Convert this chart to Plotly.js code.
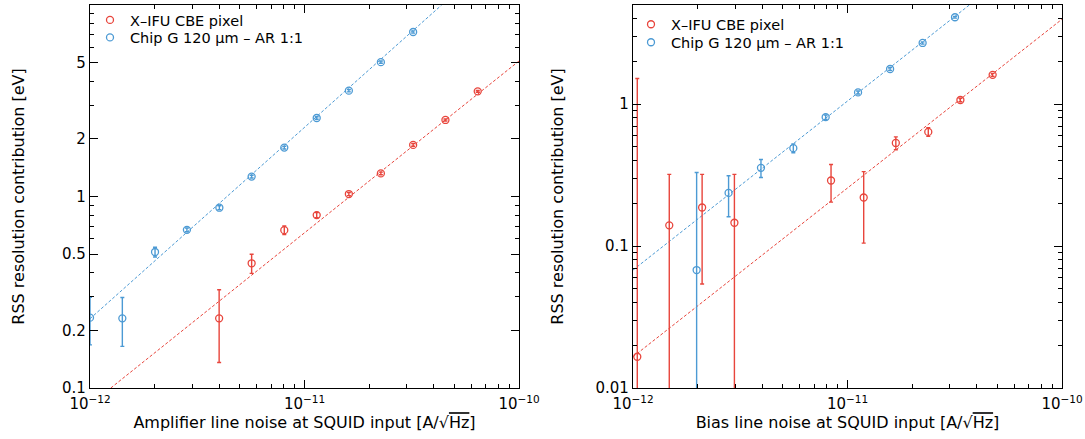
<!DOCTYPE html>
<html>
<head>
<meta charset="utf-8">
<script src="https://cdn.plot.ly/plotly-3.0.1.min.js"></script>
<style>html,body{margin:0;padding:0;background:#fff}#chart{width:1085px;height:439px}</style>
</head>
<body>
<div id="chart"></div>
<script>
// ---- Data: amplifier line noise (left panel) ----
const ampRedX = [4.0e-12, 5.67e-12, 8.05e-12, 1.14e-11, 1.61e-11, 2.27e-11, 3.21e-11, 4.54e-11, 6.42e-11];
const ampRedY = [0.231, 0.448, 0.667, 0.80, 1.03, 1.32, 1.86, 2.51, 3.54];
const ampRedErr = [0.095, 0.051, 0.035, 0.025, 0.02, 0.02, 0.03, 0.03, 0.04];
const ampBlueX = [1.0e-12, 1.415e-12, 2.01e-12, 2.83e-12, 4.01e-12, 5.67e-12, 8.05e-12, 1.14e-11, 1.61e-11, 2.27e-11, 3.21e-11];
const ampBlueY = [0.233, 0.231, 0.513, 0.67, 0.874, 1.27, 1.80, 2.57, 3.57, 5.03, 7.23];
const ampBlueErr = [0.065, 0.066, 0.03, 0.015, 0.02, 0.02, 0.03, 0.04, 0.05, 0.07, 0.1];
const ampRedFitX = [1.25e-12, 1e-10];
const ampRedFitY = [0.1, 5.1];
const ampBlueFitX = [1e-12, 4.36e-11];
const ampBlueFitY = [0.23, 10];

// ---- Data: bias line noise (right panel) ----
const biasRedX = [1.047e-12, 1.476e-12, 2.1e-12, 2.97e-12, 8.38e-12, 1.19e-11, 1.68e-11, 2.38e-11, 3.36e-11, 4.75e-11];
const biasRedY = [0.0166, 0.14, 0.187, 0.146, 0.29, 0.22, 0.533, 0.638, 1.07, 1.61];
const biasRedErr = [1.5, 0.18, 0.133, 0.174, 0.086, 0.115, 0.055, 0.045, 0.03, 0.04];
const biasBlueX = [1.98e-12, 2.79e-12, 3.95e-12, 5.59e-12, 7.91e-12, 1.12e-11, 1.58e-11, 2.24e-11, 3.17e-11];
const biasBlueY = [0.0678, 0.237, 0.356, 0.49, 0.81, 1.21, 1.77, 2.70, 4.10];
const biasBlueErr = [0.262, 0.076, 0.052, 0.035, 0.03, 0.03, 0.04, 0.05, 0.06];
const biasRedFitX = [1e-12, 1e-10];
const biasRedFitY = [0.0166, 3.97];
const biasBlueFitX = [1e-12, 3.7e-11];
const biasBlueFitY = [0.0678, 5.0];

// ---- Labels ----
const seriesNames = ["X\u2013IFU CBE pixel", "Chip G 120 \u00b5m \u2013 AR 1:1"];
const xTickVals = [1e-12, 1e-11, 1e-10];
const xTickText = ["10<sup>\u221212</sup>", "10<sup>\u221211</sup>", "10<sup>\u221210</sup>"];
const leftYTickVals = [0.1, 0.2, 0.5, 1, 2, 5];
const leftYTickText = ["0.1", "0.2", "0.5", "1", "2", "5"];
const rightYTickVals = [0.01, 0.1, 1];
const rightYTickText = ["0.01", "0.1", "1"];
const yTitle = "RSS resolution contribution [eV]";
const leftXTitle = "Amplifier line noise at SQUID input [A/\u221a<span style=\"text-decoration:overline\">Hz</span>]";
const rightXTitle = "Bias line noise at SQUID input [A/\u221a<span style=\"text-decoration:overline\">Hz</span>]";

const RED = "#e8453c";
const BLUE = "#4c9ad4";
const FONT = "DejaVu Sans, sans-serif";

function minorVals(lo, hi) {
  const out = [];
  for (let e = lo; e < hi; e++) for (let m = 2; m <= 9; m++) out.push(m * Math.pow(10, e));
  return out;
}

function pts(x, y, err, color, name, xa, ya, legend) {
  return {
    x: x, y: y, type: "scatter", mode: "markers", name: name,
    xaxis: xa, yaxis: ya, legend: legend, showlegend: true,
    marker: {symbol: "circle-open", size: 7, color: color, line: {width: 1.3, color: color}},
    error_y: {type: "data", array: err, visible: true, color: color, thickness: 1.4, width: 2}
  };
}
function fit(x, y, color, xa, ya) {
  return {
    x: x, y: y, type: "scatter", mode: "lines", showlegend: false, hoverinfo: "skip",
    xaxis: xa, yaxis: ya, line: {color: color, width: 1, dash: "3px,2px"}
  };
}

const traces = [
  fit(ampRedFitX, ampRedFitY, RED, "x", "y"),
  fit(ampBlueFitX, ampBlueFitY, BLUE, "x", "y"),
  pts(ampRedX, ampRedY, ampRedErr, RED, seriesNames[0], "x", "y", "legend"),
  pts(ampBlueX, ampBlueY, ampBlueErr, BLUE, seriesNames[1], "x", "y", "legend2"),
  fit(biasRedFitX, biasRedFitY, RED, "x2", "y2"),
  fit(biasBlueFitX, biasBlueFitY, BLUE, "x2", "y2"),
  pts(biasRedX, biasRedY, biasRedErr, RED, seriesNames[0], "x2", "y2", "legend3"),
  pts(biasBlueX, biasBlueY, biasBlueErr, BLUE, seriesNames[1], "x2", "y2", "legend4")
];

const W = 1085, H = 439;
const yDom = [(H - 388) / H, (H - 5) / H];
function xAxis(dom, title, anchor) {
  return {
    type: "log", domain: dom, anchor: anchor, range: [-12, -10],
    tickmode: "array", tickvals: xTickVals, ticktext: xTickText,
    ticks: "inside", ticklen: 8, tickwidth: 1, tickcolor: "#000",
    minor: {tickmode: "array", tickvals: minorVals(-12, -10), ticks: "inside", ticklen: 4, tickcolor: "#000", tickwidth: 1},
    showline: true, linecolor: "#000", linewidth: 1.2, mirror: "allticks",
    showgrid: false, zeroline: false, automargin: false, ticklabelstandoff: 2,
    tickfont: {family: FONT, size: 15, color: "#000"},
    title: {text: title, font: {family: FONT, size: 16, color: "#000"}, standoff: 4}
  };
}
function yAxis(range, tv, tt, minor, anchor, standoff) {
  return {
    type: "log", domain: yDom, anchor: anchor, range: range,
    tickmode: "array", tickvals: tv, ticktext: tt,
    ticks: "inside", ticklen: 8, tickwidth: 1, tickcolor: "#000",
    minor: {tickmode: "array", tickvals: minor, ticks: "inside", ticklen: 4, tickcolor: "#000", tickwidth: 1},
    showline: true, linecolor: "#000", linewidth: 1.2, mirror: "allticks",
    showgrid: false, zeroline: false, automargin: false,
    tickfont: {family: FONT, size: 15, color: "#000"},
    title: {text: yTitle, font: {family: FONT, size: 16, color: "#000"}, standoff: standoff}
  };
}

const leftMinor = [0.3, 0.4, 0.6, 0.7, 0.8, 0.9, 3, 4, 6, 7, 8, 9];
const rightMinor = minorVals(-2, 0).concat([2, 3, 4]);

function legendAt(px, py) {
  return {
    x: px / W, y: 1 - py / H, xanchor: "left", yanchor: "middle",
    bgcolor: "rgba(0,0,0,0)", borderwidth: 0,
    font: {family: FONT, size: 14.5, color: "#000"}, itemwidth: 30
  };
}

const layout = {
  width: W, height: H,
  margin: {l: 0, r: 0, t: 0, b: 0},
  paper_bgcolor: "#fff", plot_bgcolor: "#fff",
  font: {family: FONT, size: 15, color: "#000"},
  xaxis: xAxis([90 / W, 519 / W], leftXTitle, "y"),
  yaxis: yAxis([-1, 1], leftYTickVals, leftYTickText, leftMinor, "x", 33),
  xaxis2: xAxis([633 / W, 1062 / W], rightXTitle, "y2"),
  yaxis2: yAxis([-2, Math.log10(5)], rightYTickVals, rightYTickText, rightMinor, "x2", 27),
  legend: legendAt(90, 20),
  legend2: legendAt(90, 37.5),
  legend3: legendAt(631, 24.3),
  legend4: legendAt(631, 42.3)
};

Plotly.newPlot("chart", traces, layout, {displayModeBar: false, staticPlot: true});
</script>
</body>
</html>
